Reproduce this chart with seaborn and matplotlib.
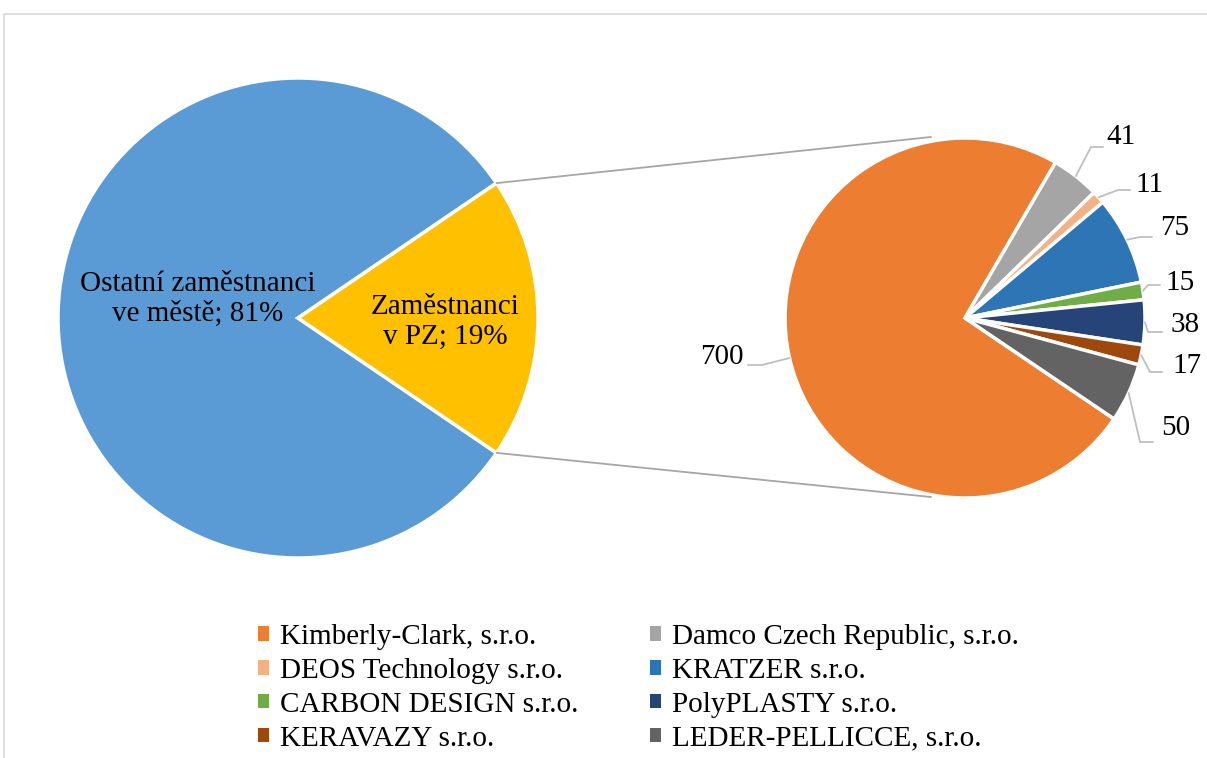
import numpy as np
import matplotlib.pyplot as plt
from matplotlib.patches import Rectangle
import seaborn as sns

# data
main_labels = ["Ostatní zaměstnanci\nve městě", "Zaměstnanci\nv PZ"]
main_pct = [81, 19]
main_colors = ["#5B9BD5", "#FFC000"]

firms = ["Kimberly-Clark, s.r.o.", "Damco Czech Republic, s.r.o.", "DEOS Technology s.r.o.",
         "KRATZER s.r.o.", "CARBON DESIGN s.r.o.", "PolyPLASTY s.r.o.",
         "KERAVAZY s.r.o.", "LEDER-PELLICCE, s.r.o."]
employees = [700, 41, 11, 75, 15, 38, 17, 50]
firm_colors = ["#ED7D31", "#A5A5A5", "#F4B183", "#2E75B6",
               "#70AD47", "#264478", "#9E480E", "#636363"]

sns.set_theme(style="white")
plt.rcParams['font.family'] = ['Liberation Serif', 'DejaVu Serif']
plt.rcParams['text.color'] = 'black'
FS = 21

W, H = 1207, 758
fig = plt.figure(figsize=(W / 100, H / 100), dpi=100)
ax = fig.add_axes([0, 0, 1, 1])

# chart border (light gray, cut off at right and bottom)
fig.patches.append(Rectangle((4 / W, -0.1), 1.2, (H - 14) / H + 0.1, transform=fig.transFigure,
                             fill=False, edgecolor="#D9D9D9", linewidth=1.2))

# left pie
c1, r1 = (298, 440), 240
start1 = 360 * main_pct[1] / 100 / 2
w1, _ = ax.pie(main_pct, colors=main_colors, startangle=start1, center=c1, radius=r1,
               wedgeprops=dict(edgecolor="white", linewidth=2.5), frame=True)
ax.text(198, H - 299, f"{main_labels[0]}; {main_pct[0]}%", ha='center', va='center',
        fontsize=FS, linespacing=1.2, color='black')
ax.text(445, H - 322, f"{main_labels[1]}; {main_pct[1]}%", ha='center', va='center',
        fontsize=FS, linespacing=1.2, color='black')

# right pie (second pie of the pie-of-pie)
c2, r2 = (965, 440), 180
w2, _ = ax.pie(employees, colors=firm_colors, startangle=-34.1, counterclock=False,
               center=c2, radius=r2, wedgeprops=dict(edgecolor="white", linewidth=2.5), frame=True)
ax.set_xlim(0, W)
ax.set_ylim(0, H)
ax.set_aspect('equal')
ax.axis('off')

# connector lines
a_top, a_bot = np.deg2rad(start1), np.deg2rad(-start1)
p_top = (c1[0] + r1 * np.cos(a_top), c1[1] + r1 * np.sin(a_top))
p_bot = (c1[0] + r1 * np.cos(a_bot), c1[1] + r1 * np.sin(a_bot))
ax.plot([p_top[0], 931], [p_top[1], H - 137], color="#A6A6A6", lw=1.3)
ax.plot([p_bot[0], 931], [p_bot[1], H - 497], color="#A6A6A6", lw=1.3)

# data labels with leader lines: elbow (px), line end (px), label centre (px)
elbows = [(748, 365), (1091, 147), (1118, 190), (1140, 237), (1148, 285),
          (1148, 332), (1150, 372), (1140, 442)]
ends = [(762, 365), (1103, 147), (1130, 190), (1152, 237), (1160, 285),
        (1162, 332), (1162, 372), (1153, 442)]
label_pos = [(722, 357), (1121, 137), (1150, 185), (1175, 228), (1180, 283),
             (1185, 325), (1187, 366), (1176, 428)]
for i, w in enumerate(w2):
    mid = np.deg2rad((w.theta1 + w.theta2) / 2)
    rim = (c2[0] + r2 * np.cos(mid), c2[1] + r2 * np.sin(mid))
    ex, ey = elbows[i]
    nx, ny = ends[i]
    if i == 0:
        ax.plot([rim[0], nx, ex], [rim[1], H - ny, H - ey], color="#BFBFBF", lw=1.3)
    else:
        ax.plot([rim[0], ex, nx], [rim[1], H - ey, H - ny], color="#BFBFBF", lw=1.3)
    lx, ly = label_pos[i]
    ax.text(lx, H - ly, str(employees[i]), ha='center', va='center', fontsize=FS, color='black')

# legend, row-wise order
order = [0, 2, 4, 6, 1, 3, 5, 7]
leg = ax.legend([w2[i] for i in order], [firms[i] for i in order], ncol=2,
                loc='upper left', bbox_to_anchor=(258 / W, 1 - 624 / H), frameon=False,
                fontsize=FS, handlelength=0.38, handleheight=0.38, handletextpad=0.38,
                columnspacing=2.45, labelspacing=0.27, borderaxespad=0, borderpad=0)
for h in leg.legend_handles:
    h.set_edgecolor("none")
for t in leg.get_texts():
    t.set_color('black')

fig.savefig("out.png", dpi=100)
